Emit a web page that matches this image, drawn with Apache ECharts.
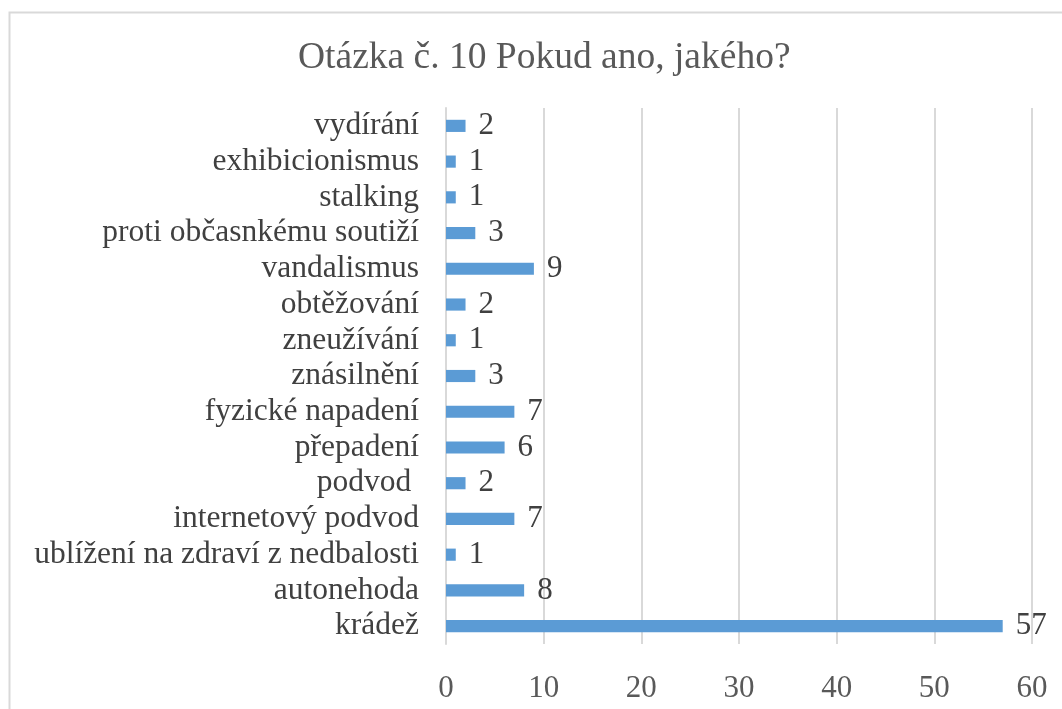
<!DOCTYPE html>
<html><head><meta charset="utf-8">
<script src="https://cdn.jsdelivr.net/npm/echarts@6/dist/echarts.min.js"></script>
<style>html,body{margin:0;padding:0;background:#fff}#c{width:1062px;height:709px}</style>
</head><body><div id="c"></div>
<script>
const categories = ["krádež","autonehoda","ublížení na zdraví z nedbalosti","internetový podvod","podvod ","přepadení","fyzické napadení","znásilnění","zneužívání","obtěžování","vandalismus","proti občasnkému soutiží","stalking","exhibicionismus","vydírání"];
const values = [57,8,1,7,2,6,7,3,1,2,9,3,1,1,2];
const xTicks = [0,10,20,30,40,50,60];
const titleText = "Otázka č. 10 Pokud ano, jakého?";

const chart = echarts.init(document.getElementById('c'), null, {renderer:'canvas'});
const font = '"Liberation Serif","Times New Roman",serif';
chart.setOption({
  animation:false,
  backgroundColor:'#fff',
  title:{text:titleText,left:293,top:34,textStyle:{fontFamily:font,fontSize:37.5,fontWeight:'normal',color:'#595959'}},
  grid:{left:446,right:30,top:108,bottom:65,containLabel:false},
  xAxis:{type:'value',min:xTicks[0],max:xTicks[xTicks.length-1],interval:10,
    axisLine:{show:false},axisTick:{show:false},
    axisLabel:{fontFamily:font,fontSize:31,color:'#595959',margin:29},
    splitLine:{lineStyle:{color:'#d9d9d9',width:2}}},
  yAxis:{type:'category',data:categories,
    axisLine:{show:true,lineStyle:{color:'#d9d9d9',width:2}},axisTick:{show:false},
    axisLabel:{interval:0,fontFamily:font,fontSize:31.5,color:'#404040',margin:27}},
  series:[{type:'bar',data:values,barCategoryGap:'66%',
    itemStyle:{color:'#5b9bd5'},
    label:{show:true,position:'right',distance:13,fontFamily:font,fontSize:31,color:'#404040'}}],
  graphic:[{type:'rect',shape:{x:9.5,y:12.5,width:1100,height:800},style:{fill:null,stroke:'#d9d9d9',lineWidth:2},silent:true,z:-1}]
});
</script></body></html>
